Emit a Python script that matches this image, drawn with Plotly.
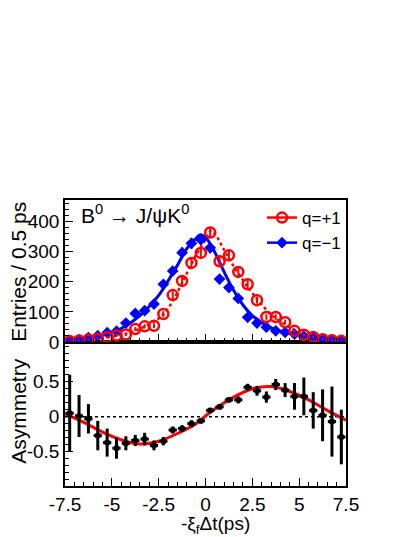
# coding: utf-8

# https://plotly.com/python
import plotly.graph_objects as go

# Bin centres of the 0.5 ps histogram
dt_bins = [-7.25, -6.75, -6.25, -5.75, -5.25, -4.75, -4.25, -3.75, -3.25, -2.75,
           -2.25, -1.75, -1.25, -0.75, -0.25, 0.25, 0.75, 1.25, 1.75, 2.25,
           2.75, 3.25, 3.75, 4.25, 4.75, 5.25, 5.75, 6.25, 6.75, 7.25]

# Entries per bin, q=+1 (red) and q=-1 (blue)
entries_qplus = [3, 5, 8, 11, 16, 22, 25, 43, 52, 54,
                 93, 156, 203, 263, 296, 364, 268, 288, 233, 192,
                 139, 83, 83, 66, 37, 24, 17, 9, 6, 4]
entries_qminus = [4, 8, 15, 21, 31, 36, 63, 95, 104, 126,
                  192, 236, 297, 328, 340, 313, 209, 181, 145, 82,
                  63, 49, 37, 32, 26, 19, 15, 9, 6, 3]

# Fit curves
fit_qminus_t = [-7.5, -6.5, -5.5, -4.5, -3.5, -2.5, -2.0, -1.5, -1.0, -0.5, -0.3,
                0.0, 0.5, 1.0, 1.5, 2.0, 2.5, 3.5, 4.5, 5.5, 6.5, 7.5]
fit_qminus = [8, 12, 22, 45, 88, 155, 203, 255, 310, 345, 356,
              348, 298, 232, 172, 123, 88, 47, 28, 18, 11, 7]
fit_qplus_t = [-7.5, -6.5, -5.5, -4.5, -3.5, -2.5, -2.0, -1.5, -1.0, -0.5, 0.0,
               0.3, 0.5, 1.0, 1.5, 2.0, 2.5, 3.5, 4.5, 5.5, 6.5, 7.5]
fit_qplus = [5, 8, 13, 24, 44, 78, 112, 165, 228, 290, 340,
             370, 360, 305, 252, 205, 162, 92, 48, 22, 11, 6]

# Asymmetry per bin with its error
asym = [0.05, 0.01, -0.03, -0.27, -0.37, -0.45, -0.38, -0.34, -0.32, -0.41,
        -0.35, -0.19, -0.17, -0.10, -0.06, 0.09, 0.14, 0.24, 0.24, 0.42,
        0.37, 0.28, 0.46, 0.38, 0.29, 0.29, 0.09, 0.02, -0.07, -0.29]
asym_err = [0.55, 0.30, 0.21, 0.21, 0.20, 0.15, 0.10, 0.08, 0.09, 0.07,
            0.06, 0.05, 0.05, 0.05, 0.04, 0.04, 0.04, 0.04, 0.05, 0.05,
            0.07, 0.08, 0.08, 0.10, 0.19, 0.27, 0.26, 0.37, 0.50, 0.39]

# Asymmetry fit curve
fit_asym_t = [-7.5, -6.5, -5.5, -4.5, -3.5, -2.5, -1.5, -0.5, 0.0,
              0.5, 1.5, 2.5, 3.5, 4.5, 5.5, 6.5, 7.5]
fit_asym = [0.04, -0.08, -0.22, -0.33, -0.39, -0.35, -0.24, -0.10, 0.01,
            0.11, 0.28, 0.40, 0.43, 0.36, 0.24, 0.09, -0.05]

# Tick labels
x_tickvals = [-7.5, -5, -2.5, 0, 2.5, 5, 7.5]
x_ticktext = ['-7.5', '-5', '-2.5', '0', '2.5', '5', '7.5']
asym_tickvals = [-0.5, 0, 0.5]
asym_ticktext = ['-0.5', '0', '0.5']
entries_tickvals = [0, 100, 200, 300, 400]

RED = '#ff0000'
BLUE = '#0000ff'
FONT = 'Liberation Sans, Arial, sans-serif'

fig = go.Figure()

# Upper panel: fits
fig.add_trace(go.Scatter(
    x=fit_qplus_t, y=fit_qplus, xaxis='x2', yaxis='y2', mode='lines',
    line=dict(color=RED, width=2.5, dash='dot', shape='spline'),
    showlegend=False, hoverinfo='skip'))
fig.add_trace(go.Scatter(
    x=fit_qminus_t, y=fit_qminus, xaxis='x2', yaxis='y2', mode='lines',
    line=dict(color=BLUE, width=3, shape='spline'),
    showlegend=False, hoverinfo='skip'))

# Upper panel: data points
fig.add_trace(go.Scatter(
    x=dt_bins, y=entries_qminus, xaxis='x2', yaxis='y2', mode='markers',
    marker=dict(symbol='diamond', size=9, color=BLUE),
    error_y=dict(type='sqrt', color=BLUE, thickness=2, width=0),
    error_x=dict(type='constant', value=0.25, color=BLUE, thickness=2, width=0),
    showlegend=False))
fig.add_trace(go.Scatter(
    x=dt_bins, y=entries_qplus, xaxis='x2', yaxis='y2', mode='markers',
    marker=dict(symbol='circle-open', size=10, color=RED, line=dict(width=2.5)),
    error_y=dict(type='sqrt', color=RED, thickness=2, width=0),
    showlegend=False))

# Legend entries
fig.add_trace(go.Scatter(
    x=[None], y=[None], xaxis='x2', yaxis='y2', mode='lines+markers', name='q=+1',
    marker=dict(symbol='circle-open', size=10, color=RED, line=dict(width=2.5)),
    line=dict(color=RED, width=2.5)))
fig.add_trace(go.Scatter(
    x=[None], y=[None], xaxis='x2', yaxis='y2', mode='lines+markers', name='q=\u22121',
    marker=dict(symbol='diamond', size=9, color=BLUE),
    line=dict(color=BLUE, width=2.5)))

# Lower panel: asymmetry fit and points
fig.add_trace(go.Scatter(
    x=fit_asym_t, y=fit_asym, mode='lines',
    line=dict(color=RED, width=3, shape='spline'),
    showlegend=False, hoverinfo='skip'))
fig.add_trace(go.Scatter(
    x=dt_bins, y=asym, mode='markers',
    marker=dict(symbol='square', size=5, color='black'),
    error_y=dict(type='data', array=asym_err, color='black', thickness=3, width=0),
    error_x=dict(type='constant', value=0.22, color='black', thickness=3, width=0),
    showlegend=False))

# Dotted zero line
fig.add_shape(type='line', xref='x domain', yref='y', x0=0, x1=1, y0=0, y1=0,
              line=dict(color='black', width=1.5, dash='dot'), layer='below')

axis_common = dict(
    showgrid=False, zeroline=False, showline=True, linecolor='black', linewidth=1.5,
    mirror=True, ticks='inside', tickcolor='black', tickwidth=1, automargin=False,
    tickfont=dict(family=FONT, size=19, color='black'),
)

SPLIT = 0.5035

# The page body adds an 8 px offset, so the figure is drawn 8 px smaller
fig.update_layout(
    width=407, height=529, autosize=False,
    margin=dict(l=57, r=69, t=192, b=51),
    paper_bgcolor='white', plot_bgcolor='white',
    font=dict(family=FONT, color='black'),
    xaxis=dict(
        range=[-7.5, 7.5], anchor='y', tickvals=x_tickvals, ticktext=x_ticktext,
        ticklen=8, minor=dict(ticks='inside', dtick=0.5, ticklen=4, tickcolor='black'),
        **axis_common),
    yaxis=dict(
        domain=[0, SPLIT], range=[-0.99, 1.067], anchor='x',
        tickvals=asym_tickvals, ticktext=asym_ticktext, ticklen=8,
        minor=dict(ticks='inside', dtick=0.1, ticklen=4, tickcolor='black'),
        **axis_common),
    xaxis2=dict(
        range=[-7.5, 7.5], anchor='y2', matches='x', showticklabels=False,
        tickvals=x_tickvals, ticklen=8,
        minor=dict(ticks='inside', dtick=0.5, ticklen=4, tickcolor='black'),
        **axis_common),
    yaxis2=dict(
        domain=[SPLIT, 1], range=[0, 472], anchor='x2',
        tickvals=entries_tickvals, ticklen=8,
        minor=dict(ticks='inside', dtick=20, ticklen=4, tickcolor='black'),
        **axis_common),
    legend=dict(
        x=1, xanchor='right', y=1, yanchor='top', bgcolor='rgba(0,0,0,0)',
        font=dict(family=FONT, size=17, color='black'),
        tracegroupgap=0, itemwidth=30),
)

# Axis titles
title_font = dict(family=FONT, size=21, color='black')
fig.add_annotation(
    text='Entries / 0.5 ps', xref='paper', yref='paper', x=-0.168, y=0.748,
    xanchor='center', yanchor='middle', textangle=-90, showarrow=False, font=title_font)
fig.add_annotation(
    text='Asymmetry', xref='paper', yref='paper', x=-0.168, y=0.262,
    xanchor='center', yanchor='middle', textangle=-90, showarrow=False, font=title_font)
fig.add_annotation(
    text='-\u03be<sub>f</sub>\u0394t(ps)', xref='paper', yref='paper', x=0.534, y=-0.138,
    xanchor='center', yanchor='middle', showarrow=False,
    font=dict(family=FONT, size=19, color='black'))

# Decay channel label
fig.add_annotation(
    text='B<sup>0</sup> \u2192 J/\u03c8K<sup>0</sup>', xref='paper', yref='paper',
    x=0.05, y=0.95, xanchor='left', yanchor='middle', showarrow=False,
    font=dict(family=FONT, size=21, color='black'))

fig.write_html('out.html')
